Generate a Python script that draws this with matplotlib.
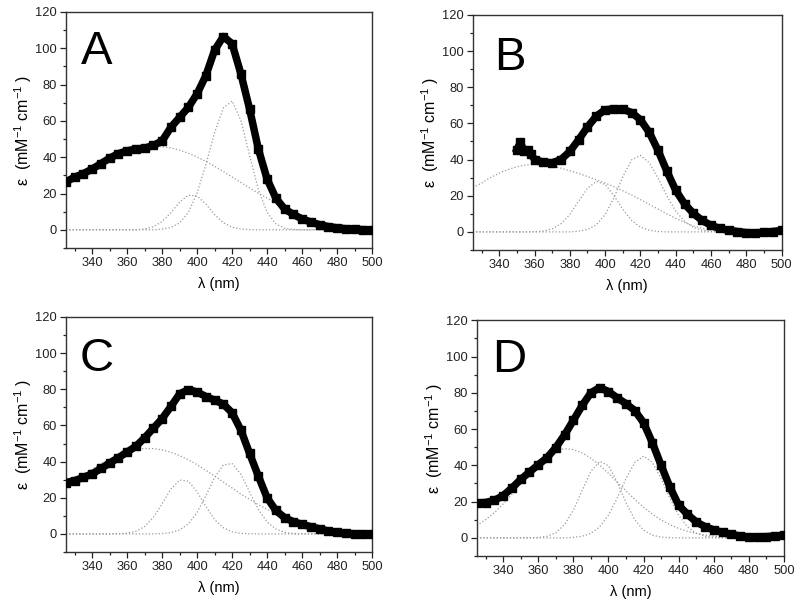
import matplotlib.pyplot as plt
from matplotlib.ticker import MultipleLocator
import numpy as np

plt.rcParams['font.family'] = ['Liberation Sans', 'DejaVu Sans']
plt.rcParams['mathtext.fontset'] = 'custom'
plt.rcParams['mathtext.rm'] = 'Liberation Sans'
plt.rcParams['mathtext.it'] = 'Liberation Sans:italic'

# common wavelength grid (nm)
wl = np.arange(325, 505, 5)

# panel A: measured spectrum and fitted components
abs_a = [26.5, 29, 31, 33.5, 36.5, 39.5, 42, 43.5, 44.5, 45, 46.5, 49,
         56.5, 62, 67.5, 75, 85, 99, 106.5, 102.5, 86, 66.5, 44.5, 28,
         17.5, 11.5, 8.5, 6, 4.3, 2.8, 1.8, 1.1, 0.6, 0.3, 0.1, 0]
fit_a1 = [24.9, 27.9, 30.9, 33.9, 36.7, 39.2, 41.4, 43.3, 44.7, 45.6, 46.0, 45.8,
          45.1, 43.9, 42.2, 40.1, 37.7, 35.0, 32.1, 29.1, 26.1, 23.1, 20.2, 17.5,
          14.9, 12.2, 9.5, 7.0, 5.0, 3.5, 2.3, 1.5, 0.9, 0.5, 0.3, 0.1]
fit_a2 = [0, 0, 0, 0, 0, 0, 0, 0, 0.1, 0.5, 1.7, 4.6,
          9.5, 15.3, 19.1, 18.6, 14.2, 8.4, 3.9, 1.4, 0.4, 0.1, 0, 0,
          0, 0, 0, 0, 0, 0, 0, 0, 0, 0, 0, 0]
fit_a3 = [0, 0, 0, 0, 0, 0, 0, 0, 0, 0, 0, 0.4,
          1.3, 3.8, 9.6, 20.3, 36, 53.6, 67.2, 71, 60.3, 41, 22.2, 9.6,
          3.3, 0.9, 0.2, 0, 0, 0, 0, 0, 0, 0, 0, 0]

# panel B (measured data starts at 350 nm)
wl_b = np.array([350, 352, 354, 356, 358] + list(range(360, 505, 5)))
abs_b = [45.5, 49.5, 44.5, 45.5, 43, 40, 38.5, 38.2, 40, 44.5, 51, 58, 64,
         67.5, 68, 67.8, 66, 62, 55, 45, 33.5, 23, 15.5, 10.2, 6.3, 3.6,
         1.9, 0.8, 0.2, -0.4, -0.5, -0.3, 0.2, 0.8]
fit_b1 = [24.5, 27, 30, 32.5, 34.5, 36, 37, 37.3, 37, 36.3, 35.2, 33.8,
          32.3, 30.6, 28.8, 27, 25, 22.8, 20.4, 17.8, 15.2, 12.6, 10, 7.5,
          5.2, 3.3, 1.9, 1, 0.5, 0.2, 0.1, 0, 0, 0, 0, 0]
fit_b2 = [0, 0, 0, 0, 0, 0, 0, 0.1, 0.5, 1.7, 4.5, 9.7,
          17, 24.1, 27.9, 26.2, 20, 12.5, 6.3, 2.6, 0.9, 0.2, 0, 0,
          0, 0, 0, 0, 0, 0, 0, 0, 0, 0, 0, 0]
fit_b3 = [0, 0, 0, 0, 0, 0, 0, 0, 0, 0, 0, 0,
          0.4, 1.3, 3.9, 9.6, 18.9, 30.4, 39.8, 42.3, 38.2, 29.7, 19.9, 11.5,
          5.8, 2.5, 0.9, 0.3, 0.1, 0, 0, 0, 0, 0, 0, 0]

# panel C
abs_c = [28.4, 29.5, 31.3, 33.2, 36.2, 39.2, 42.2, 45.3, 48.5, 53.2, 58.5, 63.8,
         70.5, 77.5, 79.8, 78.5, 76, 74, 71.8, 67, 57.5, 44.5, 32, 20,
         13, 9, 6.8, 5.3, 4, 2.8, 1.6, 0.8, 0.3, 0.1, 0, 0]
fit_c1 = [26.0, 29.4, 32.7, 35.9, 38.8, 41.5, 43.7, 45.5, 46.7, 47.3, 47.2, 46.5,
          45.2, 43.3, 41, 38.3, 35.2, 32, 28.7, 25.4, 22.1, 19.1, 16.2, 13.6,
          11.2, 9.1, 7, 5.3, 3.8, 2.6, 1.6, 1, 0.6, 0.3, 0.2, 0.1]
fit_c2 = [0, 0, 0, 0, 0, 0, 0.1, 0.4, 1.5, 4.1, 9.2, 16.7,
          24.8, 29.8, 29.2, 23.3, 15.1, 7.9, 3.4, 1.2, 0.3, 0.1, 0, 0,
          0, 0, 0, 0, 0, 0, 0, 0, 0, 0, 0, 0]
fit_c3 = [0, 0, 0, 0, 0, 0, 0, 0, 0, 0, 0, 0.2,
          0.7, 2.2, 5.6, 11.9, 21.1, 31.2, 38.2, 38.9, 33, 23.2, 13.5, 6.6,
          2.7, 0.9, 0.2, 0.1, 0, 0, 0, 0, 0, 0, 0, 0]

# panel D
abs_d = [19.3, 19.5, 20.7, 23.3, 27.5, 32.2, 36.3, 40.3, 44.2, 49.8, 56.8, 64.8,
         73, 80, 82.9, 80.7, 77.2, 74, 70.2, 63.5, 52.5, 40, 28, 18,
         13, 8.8, 6.2, 4.4, 3, 1.9, 1, 0.5, 0.5, 0.7, 1, 1.5]
fit_d1 = [6.9, 10, 13.9, 18.7, 24.1, 29.9, 35.6, 40.9, 45.2, 48.1, 49.2, 48.7,
          46.9, 43.9, 40.1, 35.6, 30.7, 25.9, 21.2, 16.9, 13.1, 9.9, 7.3, 5.2,
          3.6, 2.5, 1.6, 1, 0.6, 0.4, 0.2, 0.1, 0, 0, 0, 0]
fit_d2 = [0, 0, 0, 0, 0, 0, 0, 0.2, 0.9, 2.8, 7.3, 15.2,
          26.1, 36.7, 42.2, 39.8, 30.7, 19.4, 10, 4.2, 1.5, 0.4, 0.1, 0,
          0, 0, 0, 0, 0, 0, 0, 0, 0, 0, 0, 0]
fit_d3 = [0, 0, 0, 0, 0, 0, 0, 0, 0, 0, 0, 0.3,
          0.9, 2.5, 6.1, 12.5, 21.9, 32.7, 41.6, 45.1, 41.6, 32.7, 21.9, 12.5,
          6.1, 2.5, 0.9, 0.3, 0.1, 0, 0, 0, 0, 0, 0, 0]

panels = [
    ('A', wl, abs_a, [fit_a1, fit_a2, fit_a3], [0.0825, 0.5908, 0.3825, 0.3894], (0.05, 0.925)),
    ('B', wl_b, abs_b, [fit_b1, fit_b2, fit_b3], [0.591, 0.5875, 0.386, 0.388], (0.068, 0.91)),
    ('C', wl, abs_c, [fit_c1, fit_c2, fit_c3], [0.0825, 0.0891, 0.3825, 0.3878], (0.044, 0.915)),
    ('D', wl, abs_d, [fit_d1, fit_d2, fit_d3], [0.596, 0.0825, 0.384, 0.389], (0.05, 0.925)),
]

fig = plt.figure(figsize=(8, 6.06), dpi=100)

for letter, x, y, fits, rect, pos in panels:
    ax = fig.add_axes(rect)
    # fitted gaussian components
    for f in fits:
        ax.plot(wl, f, ls=':', color='#9a9a9a', lw=0.9, zorder=2)
    # measured spectrum
    ax.plot(x, y, color='black', lw=5.4, marker='s', ms=5.4,
            solid_joinstyle='round', zorder=3)

    ax.set_xlim(325, 500)
    ax.set_ylim(-10, 120)
    ax.xaxis.set_minor_locator(MultipleLocator(10))
    ax.yaxis.set_minor_locator(MultipleLocator(10))
    ax.set_xticks(np.arange(340, 501, 20))
    ax.set_yticks(np.arange(0, 121, 20))
    ax.tick_params(which='both', direction='out', top=False, right=False,
                   labelsize=9.3, width=0.9, colors='#222222')
    ax.tick_params(which='major', length=4, pad=2.5)
    ax.tick_params(which='minor', length=2.5)
    for s in ax.spines.values():
        s.set_linewidth(1.0)
        s.set_color('#333333')

    ax.set_xlabel('\u03bb (nm)', fontsize=10.5, labelpad=6)
    ax.set_ylabel('\u03b5  (mM$^{-1}$ cm$^{-1}$ )', fontsize=11.5, labelpad=1)
    ax.text(pos[0], pos[1], letter, transform=ax.transAxes, fontsize=34,
            ha='left', va='top')

fig.savefig('out.png', dpi=100)
